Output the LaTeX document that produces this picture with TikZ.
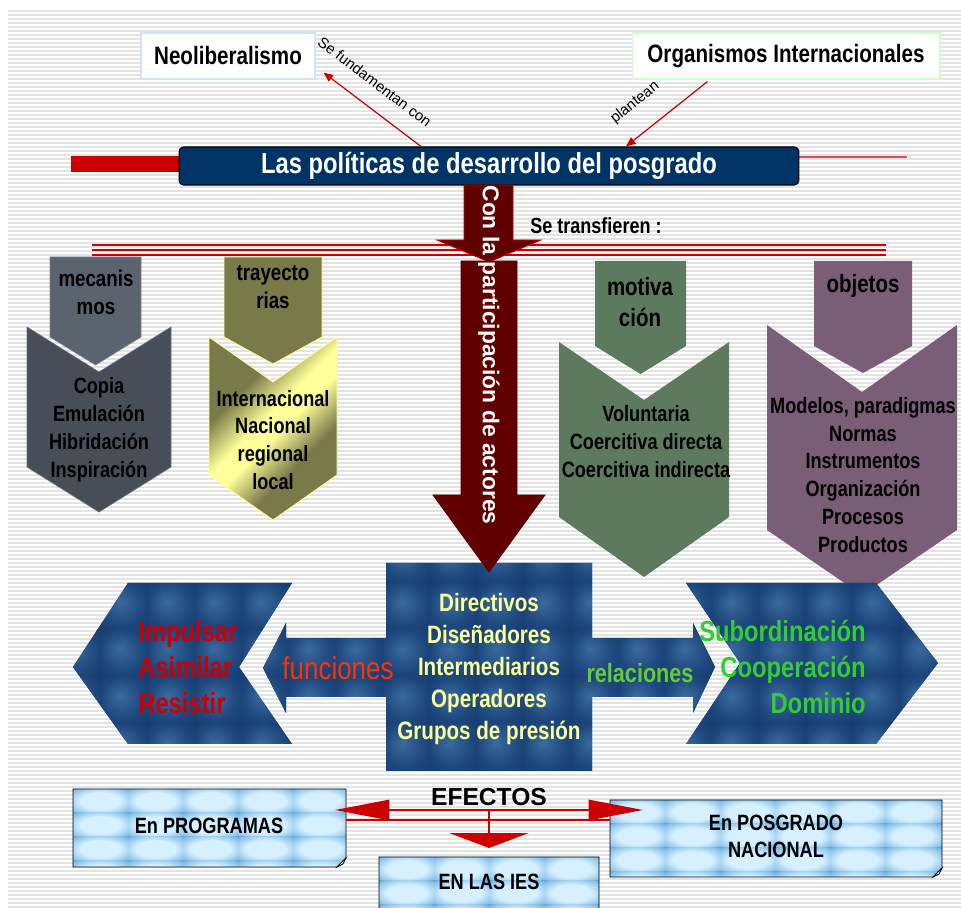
\documentclass[tikz,border=0pt]{standalone}
\usepackage{fontspec}
\setmainfont{Liberation Sans}
\newfontfamily\narrowfont{Liberation Sans}[FakeStretch=0.82]
\usetikzlibrary{positioning,calc,arrows.meta}
\definecolor{navy}{RGB}{0,51,102}
\definecolor{maroon}{RGB}{96,0,0}
\definecolor{lineRed}{RGB}{204,0,0}
\definecolor{neoedge}{RGB}{204,229,255}
\definecolor{orgedge}{RGB}{204,255,204}
\definecolor{mecgrayA}{RGB}{91,99,110}
\definecolor{mecgrayB}{RGB}{71,78,88}
\definecolor{olive}{RGB}{122,121,74}
\definecolor{glossyel}{RGB}{255,255,153}
\definecolor{motgreen}{RGB}{94,122,94}
\definecolor{objmauve}{RGB}{122,94,120}
\definecolor{tiledark}{RGB}{16,50,98}
\definecolor{tilemid}{RGB}{30,72,126}
\definecolor{tilelight}{RGB}{58,106,158}
\definecolor{actyellow}{RGB}{255,255,153}
\definecolor{redtxt}{RGB}{204,0,0}
\definecolor{greentxt}{RGB}{51,204,51}
\definecolor{relgreen}{RGB}{102,204,51}
\definecolor{funcred}{RGB}{255,51,0}
\definecolor{paperlight}{RGB}{214,240,255}
\definecolor{papermid}{RGB}{130,190,232}
\definecolor{paperdark}{RGB}{48,96,158}
\pgfdeclareradialshading{bluebump}{\pgfpoint{-6bp}{6bp}}{color(0bp)=(tilelight); color(22bp)=(tilemid); color(50bp)=(tiledark)}
\pgfdeclareradialshading{paperbump}{\pgfpoint{0bp}{0bp}}{color(0bp)=(paperlight); color(18bp)=(paperlight); color(33bp)=(papermid); color(45bp)=(paperdark); color(60bp)=(paperdark)}
\pgfdeclarehorizontalshading{olivegloss}{100bp}{color(0bp)=(olive); color(34bp)=(olive); color(46bp)=(glossyel); color(52bp)=(glossyel); color(64bp)=(olive); color(100bp)=(olive)}
% chevron pieces: style, left, right, top, side, tip
\newcommand{\chevhead}[6]{%
  \path[#1] (#2,#4) -- (#3,#4) -- (#3,#5) -- ({(#2+#3)/2},#6) -- (#2,#5) -- cycle;}
% style, left, right, top, notch, side, tip
\newcommand{\chevbody}[7]{%
  \path[#1] (#2,#4) -- ({(#2+#3)/2},#5) -- (#3,#4) -- (#3,#6) -- ({(#2+#3)/2},#7) -- (#2,#6) -- cycle;}
% tiled sheet with a turned corner: left, top, right, bottom
\newcommand{\paperbox}[4]{%
  \begin{scope}
    \clip (#1,#2) -- (#3,#2) -- (#3,{#4-9}) -- ({#3-9},#4) -- (#1,#4) -- cycle;
    \fill[paperdark] (#1,#2) rectangle (#3,#4);
    \foreach \pcol in {0,...,6}
      \foreach \prow in {0,...,3}
        \shade[papercell] ({#1+\pcol*55},{#2+\prow*24}) rectangle +(55,24);
  \end{scope}
  \draw[paperedge] (#1,#2) -- (#3,#2) -- (#3,{#4-9}) -- ({#3-9},#4) -- (#1,#4) -- cycle;
  \filldraw[paperfold] (#3,{#4-9}) -- ({#3-9},#4) -- ({#3-3},{#4-3}) -- cycle;}
\tikzset{
  stripe/.style={draw=black!11, line width=0.85pt},
  topbox/.style={draw=#1, fill=white, line width=0.6pt, minimum height=0.92cm, inner sep=0pt,
    font=\narrowfont\bfseries\fontsize{14.3}{17}\selectfont},
  titlebox/.style={draw=black, line width=0.6pt, fill=navy, rounded corners=2.5pt, minimum width=12.4cm,
    minimum height=0.76cm, inner sep=0pt, text=white, font=\narrowfont\bfseries\fontsize{16.5}{19}\selectfont},
  redarr/.style={draw=lineRed, line width=0.7pt, -{Triangle[length=5.5pt,width=4.5pt]}},
  lbl/.style={font=\fontsize{8.5}{10}\selectfont, inner sep=1pt},
  transf/.style={font=\narrowfont\bfseries\fontsize{12.5}{15}\selectfont, inner sep=0pt},
  tripred/.style={draw=lineRed, line width=1.3pt},
  chevhd/.style={font=\narrowfont\bfseries\fontsize{13}{15.9}\selectfont, align=center, inner sep=0pt},
  chevbig/.style={font=\narrowfont\bfseries\fontsize{14.2}{17.6}\selectfont, align=center, inner sep=0pt},
  chevtxt/.style={font=\narrowfont\bfseries\fontsize{12.6}{15.9}\selectfont, align=center, inner sep=0pt},
  mecA/.style={fill=mecgrayA, draw=mecgrayA!80!white, line width=0.4pt},
  mecB/.style={fill=mecgrayB, draw=mecgrayB!80!white, line width=0.4pt},
  trayA/.style={fill=olive, draw=glossyel, line width=0.5pt},
  trayB/.style={shade, shading=olivegloss, shading angle=-45, draw=glossyel, line width=0.5pt},
  motA/.style={fill=motgreen},
  motB/.style={fill=motgreen},
  objA/.style={fill=objmauve},
  objB/.style={fill=objmauve},
  maroonarr/.style={fill=maroon, draw=lineRed, line width=0.5pt},
  bluecell/.style={shading=bluebump},
  yeltxt/.style={font=\narrowfont\bfseries\fontsize{14.3}{18.1}\selectfont, text=actyellow, align=center, inner sep=0pt},
  bigtxt/.style={font=\narrowfont\bfseries\fontsize{16.5}{20.4}\selectfont, inner sep=0pt},
  funtxt/.style={font=\narrowfont\fontsize{18}{21}\selectfont, text=funcred, inner sep=0pt},
  reltxt/.style={font=\narrowfont\bfseries\fontsize{15}{18}\selectfont, text=relgreen, inner sep=0pt},
  actores/.style={font=\bfseries\fontsize{13}{15}\selectfont, text=white, rotate=-90, inner sep=0pt},
  efectos/.style={font=\bfseries\fontsize{14}{17}\selectfont, inner sep=0pt},
  efline/.style={draw=lineRed, line width=1.4pt},
  papercell/.style={shading=paperbump},
  paperedge/.style={draw=black, line width=0.5pt},
  paperfold/.style={fill=white, draw=black, line width=0.4pt},
  paperlbl/.style={font=\narrowfont\bfseries\fontsize{12.6}{15.3}\selectfont, align=center, inner sep=0pt}
}
\begin{document}
\begin{tikzpicture}[x=0.02cm,y=-0.02cm]
\useasboundingbox (0,0) rectangle (961,908);
% ruled background
\foreach \sy in {11,15,...,907}
  \draw[stripe] (8,\sy) -- (961,\sy);
% sources
\node[topbox=neoedge, minimum width=3.48cm] (neo) at (228,56) {Neoliberalismo};
\node[topbox=orgedge, minimum width=6.16cm] (org) at (786,56) {Organismos Internacionales};
% title band
\fill[lineRed] (71,156) rectangle (180,172);
\draw[lineRed!70, line width=0.8pt] (799,157) -- (907,157);
\node[titlebox] (title) at (489,166) {Las políticas de desarrollo del posgrado};
\draw[redarr] ($(title.north)+(-68,0)$) -- node[lbl, sloped, pos=0.62, above=9pt] {Se fundamentan con} ($(neo.south east)+(8,-7)$);
\draw[redarr] ($(org.south west)+(76,2)$) -- node[lbl, sloped, pos=0.67, above=11pt] {plantean} ($(title.north)+(137,0)$);
% what is transferred
\node[transf] (transf) at (596,226) {Se transfieren :};
\foreach \ly in {245,250,255}
  \draw[tripred] (92,\ly) -- (886,\ly);
\chevhead{mecA}{50}{141}{257}{337}{365}
\chevbody{mecB}{27}{171}{327}{372}{467}{512}
\chevhead{trayA}{224}{322}{257}{337}{364}
\chevbody{trayB}{209}{337}{337}{382}{475}{520}
\chevhead{motA}{595}{686}{261}{346}{374}
\chevbody{motB}{559}{729}{342}{400}{517}{577}
\chevhead{objA}{814}{912}{261}{346}{373}
\chevbody{objB}{767}{957}{325}{392}{530}{595}
\node[chevhd] (mecT) at (96,292) {mecanis\\mos};
\node[chevtxt] (mecL) at (99,430) {Copia\\Emulación\\Hibridación\\Inspiración};
\node[chevhd] (trayT) at (273,287) {trayecto\\rias};
\node[chevtxt] (trayL) at (273,440) {Internacional\\Nacional\\regional\\local};
\node[chevbig] (motT) at (640,302) {motiva\\ción};
\node[chevtxt] (motL) at (646,442) {Voluntaria\\Coercitiva directa\\Coercitiva indirecta};
\node[chevbig] (objT) at (863,286) {objetos};
\node[chevtxt] (objL) at (863,475) {Modelos, paradigmas\\Normas\\Instrumentos\\Organización\\Procesos\\Productos};
% actors, functions and relations
\begin{scope}
  \clip (386,563) -- (592,563) -- (592,771) -- (386,771) -- cycle
        (386,638) -- (286,638) -- (286,623) -- (263,668) -- (286,713) -- (286,697) -- (386,697) -- cycle
        (592,638) -- (693,638) -- (693,623) -- (715,667) -- (693,713) -- (693,697) -- (592,697) -- cycle
        (128,583) -- (292,583) -- (239,667) -- (292,744) -- (128,744) -- (73,667) -- cycle
        (686,583) -- (876,583) -- (938,663) -- (876,744) -- (686,744) -- (740,663) -- cycle;
  \fill[tiledark] (55,537) rectangle (950,820);
  \foreach \bc in {0,...,18}
    \foreach \br in {0,...,5}
      \shade[bluecell] ({55+\bc*47},{537+\br*47}) rectangle +(47,47);
\end{scope}
\filldraw[maroonarr] (464,185) -- (513,185) -- (513,240) -- (541,240) -- (489,262) -- (437,240) -- (464,240) -- cycle;
\filldraw[maroonarr, draw=maroon] (461,261) -- (517,261) -- (517,495) -- (545,495) -- (489,572) -- (433,495) -- (461,495) -- cycle;
\node[actores] (part) at (489,355) {Con la participación de actores};
\node[yeltxt] (actors) at (489,669) {Directivos\\Diseñadores\\Intermediarios\\Operadores\\Grupos de presión};
\node[bigtxt, text=redtxt, align=left, anchor=west] (impul) at (138,667) {Impulsar\\Asimilar\\Resistir};
\node[bigtxt, text=greentxt, align=right, anchor=east] (subord) at (866,667) {Subordinación\\Cooperación\\Dominio};
\node[funtxt] (func) at (338,668) {funciones};
\node[reltxt] (rel) at (640,673) {relaciones};
% effects
\paperbox{73}{789}{346}{867}
\paperbox{610}{800}{942}{877}
\paperbox{379}{857}{599}{930}
\node[paperlbl] (prog) at (209,826) {En PROGRAMAS};
\node[paperlbl] (posg) at (776,836) {En POSGRADO\\NACIONAL};
\node[paperlbl] (ies) at (489,882) {EN LAS IES};
\node[efectos] (efe) at (489,797) {EFECTOS};
\coordinate (efc) at (489,810);
\coordinate (efl) at (335,810);
\coordinate (efr) at (643,810);
\coordinate (efd) at (489,848);
\draw[efline, -{Triangle[length=31pt,width=11.5pt]}] (efc) -- (efl);
\draw[efline, -{Triangle[length=31pt,width=11.5pt]}] (efc) -- (efr);
\draw[efline, line width=1.1pt] (346,820) -- (610,820);
\draw[efline, -{Triangle[length=8.5pt,width=45pt]}] (efc) -- (efd);
\end{tikzpicture}
\end{document}
